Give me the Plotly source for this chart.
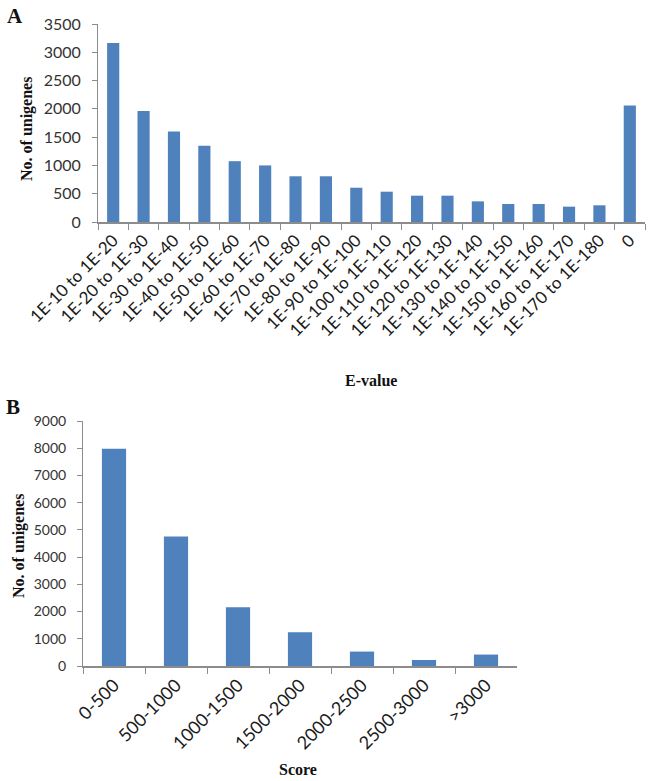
import plotly.graph_objects as go

W, H = 652, 781

# ---- data ----
evalue_labels = ["1E-10 to 1E-20", "1E-20 to 1E-30", "1E-30 to 1E-40", "1E-40 to 1E-50",
                 "1E-50 to 1E-60", "1E-60 to 1E-70", "1E-70 to 1E-80", "1E-80 to 1E-90",
                 "1E-90 to 1E-100", "1E-100 to 1E-110", "1E-110 to 1E-120", "1E-120 to 1E-130",
                 "1E-130 to 1E-140", "1E-140 to 1E-150", "1E-150 to 1E-160", "1E-160 to 1E-170",
                 "1E-170 to 1E-180", "0"]
evalue_counts = [3165, 1960, 1600, 1350, 1075, 1000, 808, 808, 606, 536, 465, 465,
                 365, 318, 318, 271, 295, 2060]

score_labels = ["0-500", "500-1000", "1000-1500", "1500-2000", "2000-2500", "2500-3000", ">3000"]
score_counts = [7980, 4760, 2160, 1240, 530, 220, 420]

BAR = "#4F81BD"
AX = "#8C8C8C"
TICKFONT = "Lato"
TITLEFONT = "Liberation Serif"


def px_x(x):
    return x / W


def px_y(y):
    return 1 - y / H


fig = go.Figure()
fig.add_trace(go.Bar(x=evalue_labels, y=evalue_counts, marker_color=BAR,
                     marker_line_width=0, width=0.4, xaxis="x", yaxis="y",
                     showlegend=False))
fig.add_trace(go.Bar(x=score_labels, y=score_counts, marker_color=BAR,
                     marker_line_width=0, width=0.39, xaxis="x2", yaxis="y2",
                     showlegend=False))

common_x = dict(type="category", showgrid=False, showline=True, linecolor=AX, linewidth=1.5,
                ticks="outside", tickson="boundaries", ticklen=6, tickcolor=AX,
                tickangle=-45, zeroline=False, automargin=False)
common_y = dict(showgrid=False, showline=True, linecolor=AX, linewidth=1,
                ticks="outside", ticklen=5, tickcolor=AX, zeroline=False,
                ticklabelstandoff=8, automargin=False)

fig.update_layout(
    template="none",
    width=W, height=H,
    margin=dict(l=0, r=0, t=0, b=0, autoexpand=False),
    paper_bgcolor="white", plot_bgcolor="white",
    xaxis=dict(domain=[px_x(98), px_x(645)], anchor="y", range=[-0.5, 17.5],
               tickfont=dict(family=TICKFONT, size=17, color="#1a1a1a"), **common_x),
    yaxis=dict(domain=[px_y(222), px_y(24)], anchor="x", range=[0, 3500], dtick=500,
               tickfont=dict(family=TICKFONT, size=16, color="#333"), **common_y),
    xaxis2=dict(domain=[px_x(83), px_x(517)], anchor="y2", range=[-0.5, 6.5],
                tickfont=dict(family=TICKFONT, size=18, color="#1a1a1a"), **common_x),
    yaxis2=dict(domain=[px_y(666), px_y(421)], anchor="x2", range=[0, 9000], dtick=1000,
                tickfont=dict(family=TICKFONT, size=14, color="#333"), **common_y),
)

ann = [
    dict(text="<b>A</b>", x=px_x(15), y=px_y(16), size=21),
    dict(text="<b>B</b>", x=px_x(13), y=px_y(407), size=21),
    dict(text="<b>No. of unigenes</b>", x=px_x(27), y=px_y(129), size=16, angle=-90),
    dict(text="<b>E-value</b>", x=px_x(371), y=px_y(380), size=16),
    dict(text="<b>No. of unigenes</b>", x=px_x(19), y=px_y(546), size=16, angle=-90),
    dict(text="<b>Score</b>", x=px_x(298), y=px_y(769), size=16),
]
for a in ann:
    fig.add_annotation(text=a["text"], x=a["x"], y=a["y"], xref="paper", yref="paper",
                       showarrow=False, xanchor="center", yanchor="middle",
                       textangle=a.get("angle", 0),
                       font=dict(family=TITLEFONT, size=a["size"], color="#111"))

fig.write_html("out.html", config={"displayModeBar": False},
               post_script="document.body.style.margin='0';document.body.style.overflow='hidden';")
